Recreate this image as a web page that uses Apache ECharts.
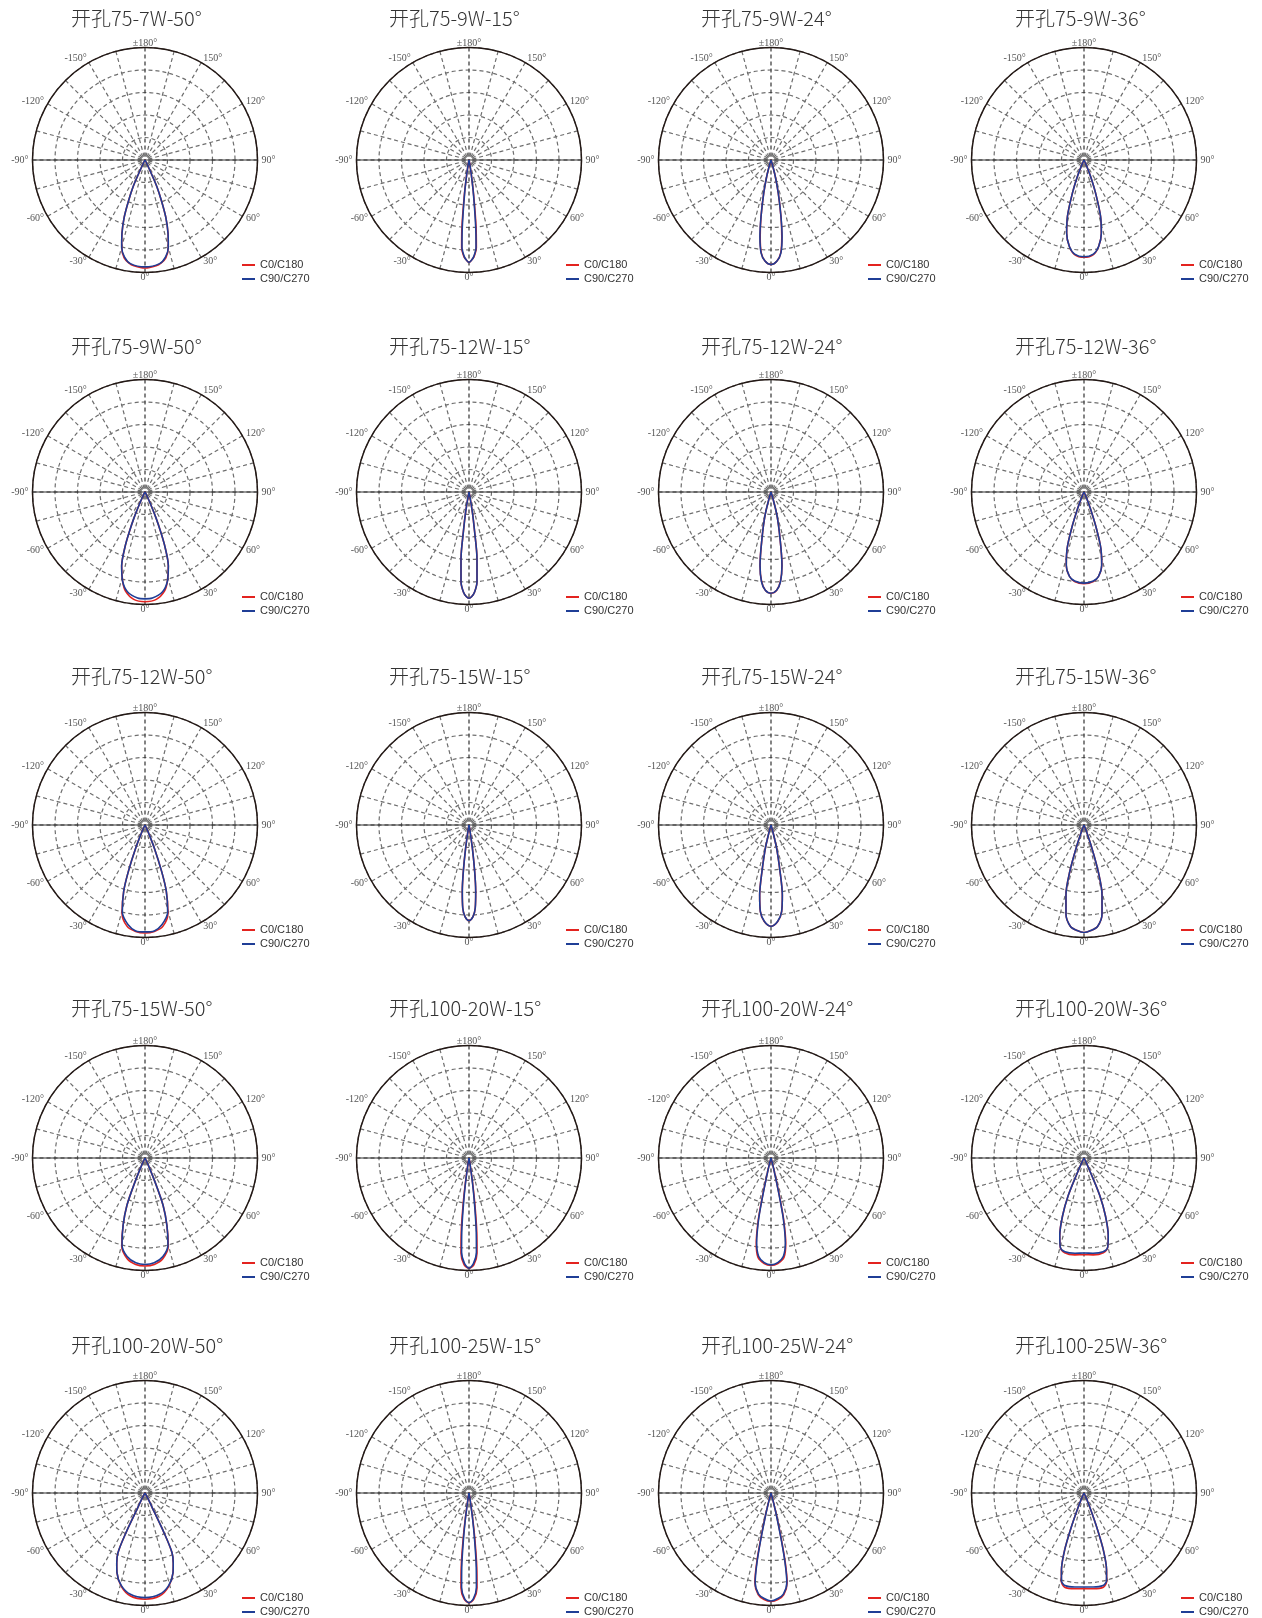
<!DOCTYPE html>
<html>
<head>
<meta charset="utf-8">
<title>配光曲线</title>
<script src="https://cdn.jsdelivr.net/npm/echarts@6/dist/echarts.min.js"></script>
<style>
html, body { margin: 0; padding: 0; background: #fff; }
#main { width: 1262px; height: 1618px; }
</style>
</head>
<body>
<div id="main"></div>
<script>
// 灯具型号
var titles = [
  '开孔75-7W-50°', '开孔75-9W-15°', '开孔75-9W-24°', '开孔75-9W-36°',
  '开孔75-9W-50°', '开孔75-12W-15°', '开孔75-12W-24°', '开孔75-12W-36°',
  '开孔75-12W-50°', '开孔75-15W-15°', '开孔75-15W-24°', '开孔75-15W-36°',
  '开孔75-15W-50°', '开孔100-20W-15°', '开孔100-20W-24°', '开孔100-20W-36°',
  '开孔100-20W-50°', '开孔100-25W-15°', '开孔100-25W-24°', '开孔100-25W-36°'
];
var seriesNames = ['C0/C180', 'C90/C270'];

// angle labels (0 at bottom, counter-clockwise to 90 on the right)
var angleTicks = [0, 30, 60, 90, 120, 150, 180, 210, 240, 270, 300, 330];
var angleLabels = ['0°', '30°', '60°', '90°', '120°', '150°', '±180°', '-150°', '-120°', '-90°', '-60°', '-30°'];

// half curves, [angle, relative intensity]; the other half is the mirror
var c0Curves = [
  [[0,0.96],[6,0.945],[9,0.925],[12,0.89],[15,0.80],[17.5,0.68],[20,0.54],[22,0.39],[24,0.26],[25,0.13],[27,0.03],[30,0]],
  [[0,0.91],[1.5,0.89],[3,0.86],[4.8,0.78],[6,0.6],[7.6,0.31],[9,0.13],[11,0.03],[14,0]],
  [[0,0.93],[3.4,0.90],[6,0.83],[8,0.69],[10,0.51],[12.4,0.30],[14.6,0.15],[17,0.04],[20,0]],
  [[0,0.865],[5.7,0.845],[9.6,0.78],[13.3,0.67],[16.4,0.52],[19.3,0.31],[21.8,0.16],[24,0.05],[28,0]],
  [[0,0.975],[6,0.96],[11,0.90],[14,0.82],[17.5,0.69],[20,0.52],[21.5,0.38],[23,0.25],[24.5,0.12],[27,0.03],[30,0]],
  [[0,0.944],[1.5,0.93],[3.2,0.89],[5.1,0.80],[6.8,0.60],[8.1,0.35],[9.5,0.18],[11,0.05],[14,0]],
  [[0,0.90],[3.3,0.875],[6,0.80],[8.5,0.66],[11,0.42],[14.4,0.21],[17,0.05],[20,0]],
  [[0,0.815],[6,0.80],[9.8,0.76],[13.6,0.67],[16.7,0.52],[18.8,0.34],[21,0.16],[23.5,0.05],[27,0]],
  [[0,0.96],[5,0.95],[10,0.915],[14.6,0.81],[17.8,0.62],[19.7,0.44],[22,0.22],[24.5,0.06],[28,0]],
  [[0,0.85],[2.5,0.815],[4.3,0.74],[5.8,0.59],[7,0.41],[8.3,0.21],[10,0.05],[13,0]],
  [[0,0.90],[4,0.86],[7,0.775],[9.2,0.63],[11,0.42],[13.6,0.21],[16,0.05],[19,0]],
  [[0,0.955],[3.7,0.94],[7.6,0.91],[11.4,0.81],[14.5,0.64],[17,0.43],[18.8,0.22],[21,0.06],[24,0]],
  [[0,0.96],[5,0.95],[10,0.91],[14.8,0.81],[18,0.63],[20.9,0.45],[22.7,0.23],[25,0.06],[28,0]],
  [[0,0.98],[2.6,0.95],[4.8,0.85],[6,0.66],[7.2,0.42],[8.3,0.22],[10,0.05],[12,0]],
  [[0,0.955],[3.7,0.94],[7.5,0.89],[9.8,0.77],[11.6,0.56],[12.4,0.38],[13.2,0.195],[15,0.05],[18,0]],
  [[0,0.86],[5.4,0.865],[11.5,0.86],[14.9,0.82],[17.4,0.72],[20.4,0.545],[22.8,0.36],[24,0.17],[26,0.05],[29,0]],
  [[0,0.944],[8,0.925],[14,0.86],[19.4,0.75],[22,0.67],[24.4,0.58],[25.6,0.39],[26,0.19],[28,0.05],[31,0]],
  [[0,0.975],[2.6,0.945],[4.8,0.85],[6,0.66],[7.2,0.42],[8.3,0.22],[10,0.05],[12,0]],
  [[0,0.965],[3.7,0.95],[7.2,0.91],[10.2,0.81],[11.6,0.63],[12.6,0.42],[13.8,0.21],[15.5,0.05],[18,0]],
  [[0,0.85],[5.5,0.855],[11.6,0.855],[14.4,0.81],[16.4,0.71],[18.8,0.53],[20.3,0.345],[22,0.16],[24,0.05],[27,0]]
];
var c90Curves = [
  [[0,0.95],[8,0.93],[12,0.88],[15,0.80],[17.5,0.68],[20,0.54],[22,0.39],[24,0.26],[25,0.13],[27,0.03],[30,0]],
  [[0,0.91],[1.5,0.89],[2.8,0.86],[4.6,0.78],[5.7,0.6],[7.4,0.31],[9,0.13],[11,0.03],[14,0]],
  [[0,0.93],[3.4,0.90],[6.1,0.83],[8.2,0.69],[10,0.51],[12.4,0.30],[14.6,0.15],[17,0.04],[20,0]],
  [[0,0.86],[5.7,0.84],[9.6,0.78],[13.3,0.67],[16.4,0.52],[19.3,0.31],[21.8,0.16],[24,0.05],[28,0]],
  [[0,0.95],[4,0.945],[10,0.90],[14,0.82],[17.5,0.69],[20,0.52],[21.5,0.38],[23,0.25],[24.5,0.12],[27,0.03],[30,0]],
  [[0,0.944],[1.5,0.93],[3.2,0.89],[5.1,0.80],[6.8,0.60],[8.1,0.35],[9.5,0.18],[11,0.05],[14,0]],
  [[0,0.90],[3.3,0.875],[6.1,0.80],[8.5,0.66],[11,0.42],[14.4,0.21],[17,0.05],[20,0]],
  [[0,0.81],[6,0.795],[9.8,0.76],[13.6,0.67],[16.7,0.52],[18.8,0.34],[21,0.16],[23.5,0.05],[27,0]],
  [[0,0.95],[5,0.945],[9.6,0.90],[14.6,0.80],[17.8,0.62],[19.7,0.44],[22,0.22],[24.5,0.06],[28,0]],
  [[0,0.85],[2.5,0.815],[4.3,0.74],[5.8,0.59],[7,0.41],[8.3,0.21],[10,0.05],[13,0]],
  [[0,0.90],[4,0.857],[7,0.775],[9.2,0.63],[11,0.42],[13.6,0.21],[16,0.05],[19,0]],
  [[0,0.955],[3.7,0.94],[7.6,0.91],[11.4,0.81],[14.5,0.64],[17,0.43],[18.8,0.22],[21,0.06],[24,0]],
  [[0,0.947],[5,0.935],[10.3,0.89],[14.8,0.80],[18,0.63],[20.9,0.45],[22.7,0.23],[25,0.06],[28,0]],
  [[0,0.98],[2.4,0.94],[4.5,0.84],[5.6,0.66],[6.8,0.42],[8,0.22],[9.5,0.05],[12,0]],
  [[0,0.95],[3.7,0.932],[7.2,0.88],[9.6,0.765],[11.4,0.56],[12.2,0.38],[13,0.195],[15,0.05],[18,0]],
  [[0,0.845],[5.4,0.85],[11.5,0.85],[14.9,0.82],[17.4,0.72],[20.4,0.545],[22.8,0.36],[24,0.17],[26,0.05],[29,0]],
  [[0,0.93],[8.2,0.91],[14.3,0.85],[19.4,0.75],[22,0.67],[24.4,0.58],[25.6,0.39],[26,0.19],[28,0.05],[31,0]],
  [[0,0.975],[2.4,0.94],[4.5,0.84],[5.6,0.66],[6.8,0.42],[8,0.22],[9.5,0.05],[12,0]],
  [[0,0.96],[3.7,0.94],[7,0.905],[10,0.81],[11.4,0.63],[12.4,0.42],[13.6,0.21],[15.5,0.05],[18,0]],
  [[0,0.835],[5.5,0.84],[11.6,0.84],[14.4,0.805],[16.4,0.71],[18.8,0.53],[20.3,0.345],[22,0.16],[24,0.05],[27,0]]
];

// layout of the 4 x 5 grid
var colX = [145, 469, 771, 1084];
var rowY = [160, 492, 825, 1158, 1493];
var titleX = [66, 384, 696, 1010];
var titleY = [17, 345, 675, 1007, 1344];
var radius = 112.5;

var red = '#e3231f', blue = '#1f3e96';

// mirror a half curve into [radius, angle] points from left to right
function buildCurve(half) {
  var pts = [];
  for (var k = half.length - 1; k > 0; k--) pts.push([half[k][1], 360 - half[k][0]]);
  for (var k = 0; k < half.length; k++) pts.push([half[k][1], half[k][0]]);
  return pts;
}

function angleLabel(v) {
  var idx = angleTicks.indexOf(v);
  return idx < 0 ? '' : angleLabels[idx];
}

var option = { animation: false, title: [], legend: [], polar: [], angleAxis: [], radiusAxis: [], series: [], graphic: [] };

for (var i = 0; i < titles.length; i++) {
  var col = i % 4, row = Math.floor(i / 4);
  var cx = colX[col], cy = rowY[row];
  option.title.push({
    text: titles[i],
    left: titleX[col], top: titleY[row] - 16,
    textStyle: { fontSize: 20, fontWeight: 300, color: '#333', fontFamily: 'Noto Sans CJK SC', lineHeight: 24 }
  });
  option.legend.push({
    data: seriesNames,
    orient: 'vertical',
    left: cx + 97, top: cy + 99, height: 32, padding: 0,
    icon: 'rect', itemWidth: 13, itemHeight: 2, itemGap: 2,
    selectedMode: false,
    textStyle: { fontSize: 11, color: '#333', fontFamily: 'Liberation Sans', lineHeight: 12 }
  });
  option.polar.push({ center: [cx, cy], radius: radius });
  option.angleAxis.push({
    polarIndex: i,
    type: 'value', min: 0, max: 360, interval: 15,
    startAngle: 270, clockwise: false,
    axisLine: { lineStyle: { color: '#231815', width: 1.5 } },
    axisTick: { show: false },
    axisLabel: {
      margin: 4, lineHeight: 1,
      fontSize: 10, color: '#555', fontFamily: 'Liberation Serif',
      formatter: angleLabel
    },
    splitLine: { lineStyle: { type: [4, 3], width: 1.2, color: ['#333', '#6e6e6e', '#6e6e6e', '#6e6e6e', '#6e6e6e', '#6e6e6e'] } }
  });
  option.radiusAxis.push({
    polarIndex: i,
    type: 'value', min: 0, max: 1, interval: 0.2,
    axisLine: { show: false }, axisTick: { show: false }, axisLabel: { show: false },
    splitLine: { lineStyle: { type: [4, 3], width: 1.2, color: '#6e6e6e' } }
  });
  // solid -90° .. 90° diameter
  option.graphic.push({
    type: 'line', z: 1, silent: true,
    shape: { x1: cx - radius, y1: cy, x2: cx + radius, y2: cy },
    style: { stroke: '#333', lineWidth: 1.2 }
  });
  option.series.push({
    name: seriesNames[0], type: 'line', coordinateSystem: 'polar', polarIndex: i,
    data: buildCurve(c0Curves[i]), smooth: 0.3, showSymbol: false, symbol: 'none',
    lineStyle: { color: red, width: 1.6 }, itemStyle: { color: red }, z: 3
  });
  option.series.push({
    name: seriesNames[1], type: 'line', coordinateSystem: 'polar', polarIndex: i,
    data: buildCurve(c90Curves[i]), smooth: 0.3, showSymbol: false, symbol: 'none',
    lineStyle: { color: blue, width: 1.6 }, itemStyle: { color: blue }, z: 4
  });
}

var myChart = echarts.init(document.getElementById('main'), null, { renderer: 'canvas' });
myChart.setOption(option);
</script>
</body>
</html>
